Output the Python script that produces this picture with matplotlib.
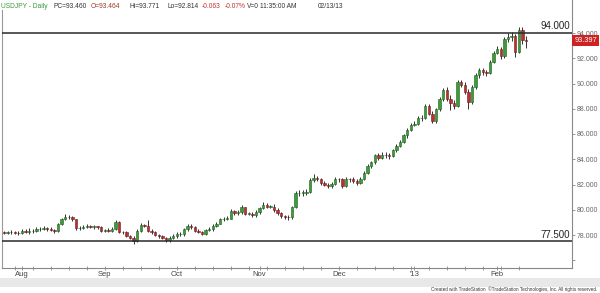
import numpy as np
import pandas as pd
import matplotlib
matplotlib.use("Agg")
import matplotlib.pyplot as plt
import matplotlib.transforms as mtransforms
from matplotlib.patches import Rectangle

plt.rcParams['font.family'] = ['Liberation Sans', 'DejaVu Sans']

dates = pd.bdate_range("2012-07-25", "2013-02-13")

opens = [78.20, 78.15, 78.25, 78.22, 78.15,
         78.12, 78.35, 78.25, 78.35, 78.30, 78.45, 78.50, 78.55, 78.50, 78.40,
         78.30, 78.85, 79.25, 79.45, 79.40, 79.25, 78.55, 78.55, 78.65, 78.70, 78.65, 78.70, 78.60,
         78.35, 78.40, 78.35, 78.45, 79.05, 78.25, 78.20, 77.95, 77.80, 77.50,
         78.35, 78.80, 78.75, 78.35, 78.20, 78.00, 77.90, 77.75, 77.60, 77.80,
         77.95, 78.05, 78.05, 78.45, 78.70, 78.65, 78.35, 78.25, 78.10, 78.40,
         78.45, 78.75, 78.90, 79.25, 79.30, 79.30, 79.90, 79.75, 79.80, 80.20,
         79.70, 79.70, 79.55,
         79.80, 80.10, 80.40, 80.25, 80.25, 80.00, 79.75, 79.50, 79.45, 79.40,
         80.20, 81.30, 81.35, 81.35, 81.40, 82.35, 82.50, 82.40, 82.10, 82.00, 81.90, 82.05,
         82.45, 82.40, 81.90, 82.45, 82.40, 82.30, 82.15,
         82.45, 82.95, 83.45, 83.75, 84.30, 84.10, 84.35, 84.30, 84.25, 84.70,
         85.05, 85.40, 85.90, 86.30,
         86.75, 86.80, 87.25, 87.30, 88.25, 87.60, 87.00, 87.95, 88.75, 89.45,
         88.80, 88.45, 88.20, 90.10, 89.85, 89.35, 88.55, 89.70, 90.65, 91.05,
         90.90, 90.85, 91.70,
         92.45, 92.75, 92.15, 93.55, 93.65, 93.80, 92.50, 94.20, 93.464]

highs = [78.32, 78.35, 78.38, 78.30, 78.28,
         78.50, 78.45, 78.55, 78.45, 78.60, 78.62, 78.70, 78.65, 78.60, 78.48,
         78.95, 79.35, 79.65, 79.60, 79.50, 79.30, 78.70, 78.80, 78.85, 78.82, 78.80, 78.75, 78.70,
         78.50, 78.55, 78.60, 79.20, 79.10, 78.35, 78.30, 78.00, 77.90, 78.45,
         78.95, 78.90, 79.20, 78.45, 78.30, 78.10, 78.00, 77.85, 77.90, 78.10,
         78.20, 78.20, 78.55, 78.85, 78.90, 78.70, 78.45, 78.35, 78.50, 78.60,
         78.85, 79.05, 79.35, 79.45, 79.50, 80.05, 80.00, 79.95, 80.35, 80.25,
         79.85, 79.80, 79.95,
         80.25, 80.65, 80.50, 80.40, 80.45, 80.10, 79.80, 79.60, 79.55, 80.30,
         81.45, 81.60, 81.55, 81.65, 82.50, 82.85, 82.65, 82.55, 82.25, 82.15, 82.20, 82.60,
         82.55, 82.50, 82.60, 82.55, 82.60, 82.45, 82.60,
         83.05, 83.60, 83.90, 84.45, 84.50, 84.55, 84.55, 84.50, 84.85, 85.20,
         85.55, 86.00, 86.45, 86.85,
         87.00, 87.40, 87.50, 88.40, 88.40, 87.80, 88.05, 88.90, 89.65, 89.70,
         89.05, 88.70, 90.25, 90.30, 90.15, 89.55, 89.85, 90.80, 91.20, 91.25,
         91.10, 91.85, 92.55,
         92.95, 92.90, 93.70, 94.00, 94.05, 93.90, 94.50, 94.45, 93.771]

lows = [78.05, 78.08, 78.10, 78.05, 77.98,
        78.05, 78.15, 78.10, 78.18, 78.22, 78.35, 78.38, 78.35, 78.28, 78.18,
        78.25, 78.80, 79.15, 79.25, 79.10, 78.40, 78.40, 78.45, 78.55, 78.52, 78.50, 78.45, 78.25,
        78.20, 78.25, 78.25, 78.40, 78.15, 78.05, 77.85, 77.70, 77.30, 77.45,
        78.25, 78.60, 78.25, 78.05, 77.90, 77.80, 77.65, 77.45, 77.45, 77.70,
        77.75, 77.90, 77.95, 78.35, 78.50, 78.25, 78.15, 78.00, 78.00, 78.30,
        78.35, 78.65, 78.85, 79.10, 79.15, 79.25, 79.55, 79.55, 79.70, 79.60,
        79.55, 79.40, 79.45,
        79.70, 80.05, 80.10, 80.10, 79.85, 79.60, 79.35, 79.30, 79.15, 79.30,
        80.10, 81.10, 81.10, 81.20, 81.35, 82.20, 82.25, 81.95, 81.85, 81.70, 81.75, 81.95,
        82.20, 81.75, 81.80, 82.20, 82.15, 82.00, 82.05,
        82.35, 82.85, 83.30, 83.65, 83.95, 84.00, 84.10, 84.00, 84.15, 84.60,
        84.95, 85.30, 85.70, 86.20,
        86.60, 86.70, 87.00, 87.20, 87.50, 86.85, 86.90, 87.80, 88.60, 88.60,
        87.90, 88.00, 88.10, 89.70, 89.20, 88.00, 88.40, 89.55, 90.45, 90.65,
        90.60, 90.75, 91.60,
        92.30, 91.95, 92.05, 93.30, 93.40, 92.10, 92.40, 93.15, 92.814]

closes = [78.15, 78.25, 78.22, 78.15, 78.12,
          78.35, 78.25, 78.35, 78.30, 78.45, 78.50, 78.55, 78.50, 78.40, 78.30,
          78.85, 79.25, 79.45, 79.40, 79.25, 78.55, 78.55, 78.65, 78.70, 78.65, 78.70, 78.60, 78.35,
          78.40, 78.35, 78.45, 79.05, 78.25, 78.20, 77.95, 77.80, 77.50, 78.35,
          78.80, 78.75, 78.35, 78.20, 78.00, 77.90, 77.75, 77.60, 77.80, 77.95,
          78.05, 78.05, 78.45, 78.70, 78.65, 78.35, 78.25, 78.10, 78.40, 78.45,
          78.75, 78.90, 79.25, 79.30, 79.30, 79.90, 79.75, 79.80, 80.20, 79.70,
          79.70, 79.55, 79.80,
          80.10, 80.40, 80.25, 80.25, 80.00, 79.75, 79.50, 79.45, 79.40, 80.20,
          81.30, 81.35, 81.35, 81.40, 82.35, 82.50, 82.40, 82.10, 82.00, 81.90, 82.05, 82.45,
          82.40, 81.90, 82.45, 82.40, 82.30, 82.15, 82.45,
          82.95, 83.45, 83.75, 84.30, 84.10, 84.35, 84.30, 84.25, 84.70, 85.05,
          85.40, 85.90, 86.30, 86.75,
          86.80, 87.25, 87.30, 88.25, 87.60, 87.00, 87.95, 88.75, 89.45, 88.80,
          88.45, 88.20, 90.10, 89.85, 89.35, 88.55, 89.70, 90.65, 91.05, 90.90,
          90.85, 91.70, 92.45,
          92.75, 92.15, 93.55, 93.65, 93.80, 92.50, 94.20, 93.46, 93.397]

level_lines = [94.0, 77.5]
level_labels = ["94.000", "77.500"]
last_price = 93.397
last_label = "93.397"
y_ticks = [76, 78, 80, 82, 84, 86, 88, 90, 92, 94]
month_labels = ["Aug", "Sep", "Oct", "Nov", "Dec", "'13", "Feb"]

title_parts = [
    ("USDJPY - Daily", "#3a9a3a"),
    ("PC=93.460", "#333333"),
    ("O=93.464", "#9a3a2a"),
    ("Hi=93.771", "#333333"),
    ("Lo=92.814", "#333333"),
    ("-0.063", "#c03030"),
    ("-0.07%", "#c03030"),
    ("V=0", "#333333"),
    ("11:35:00 AM", "#333333"),
    ("02/13/13", "#333333"),
]
title_x_px = [1, 54, 91, 130, 167, 202, 225, 247, 260, 318]

W, H = 600, 293
fig = plt.figure(figsize=(W / 100, H / 100), dpi=100)
fig.patch.set_facecolor("white")

# bottom grey band
fig.patches.append(Rectangle((0, (H - 287) / H), 1, 9 / H, transform=fig.transFigure,
                             facecolor="#e8e8e8", edgecolor="none", zorder=0))

ax = fig.add_axes([2 / W, (H - 268) / H, 570 / W, 268 / H])
ax.set_facecolor("white")

o = np.array(opens); h = np.array(highs); l = np.array(lows); c = np.array(closes)
x = np.arange(len(c))
up = c >= o
body_bottom = np.minimum(o, c)
body_h = np.maximum(np.abs(c - o), 0.04)

ax.vlines(x, l, h, color="#333333", lw=0.7, zorder=2)
ax.bar(x[up], body_h[up], bottom=body_bottom[up], width=0.7,
       color="#3c9c3c", edgecolor="#1e5e1e", linewidth=0.4, zorder=3)
ax.bar(x[~up], body_h[~up], bottom=body_bottom[~up], width=0.7,
       color="#b83232", edgecolor="#6e1a1a", linewidth=0.4, zorder=3)

blend = mtransforms.blended_transform_factory(ax.transAxes, ax.transData)
for lv, lab in zip(level_lines, level_labels):
    ax.axhline(lv, color="#2a2a2a", lw=1.1, zorder=4)
    ax.text(0.997, lv + 0.12, lab, transform=blend,
            ha="right", va="bottom", fontsize=7, color="#222222")

ax.set_xlim(-2 / 3.6, 568 / 3.6)
ax.set_ylim(94 - 235 / 12.625, 94 + 33 / 12.625)

# y axis on right
ax.yaxis.tick_right()
ax.set_yticks(y_ticks)
ax.set_yticklabels(["" if t == 76 else f"{t:.3f}" for t in y_ticks])
ax.tick_params(axis="y", direction="out", length=2.5, width=0.6, colors="#888888",
               labelcolor="#666666", labelsize=5, pad=1)

# x axis: month ticks and weekly minor ticks
didx = pd.DatetimeIndex(dates)
month_pos = [i for i in range(1, len(didx)) if didx[i].month != didx[i - 1].month]
week_pos = [i for i in range(len(didx)) if didx[i].weekday() == 0]
ax.set_xticks(month_pos)
ax.set_xticklabels(month_labels)
ax.set_xticks(week_pos, minor=True)
ax.tick_params(axis="x", which="both", direction="inout", length=3, width=0.6,
               colors="#888888", labelcolor="#444444", labelsize=5.5, pad=1)

ax.spines["top"].set_visible(False)
ax.spines["right"].set_color("#888888")
ax.spines["right"].set_linewidth(0.8)
ax.spines["bottom"].set_color("#888888")
ax.spines["bottom"].set_linewidth(0.8)
ax.spines["left"].set_color("#999999")
ax.spines["left"].set_linewidth(0.8)
ax.spines["left"].set_bounds(ax.get_ylim()[0], 94 + 23 / 12.625)

# last price box
ax.text(1.004, last_price, last_label, transform=blend,
        ha="left", va="center", fontsize=5.3, color="white", clip_on=False,
        bbox=dict(boxstyle="square,pad=0.3", facecolor="#cc2222", edgecolor="none"))

# title
for (txt, col), px in zip(title_parts, title_x_px):
    fig.text(px / W, 1 - 6 / H, txt, ha="left", va="center", fontsize=4.8, color=col)

fig.text(1 - 3 / W, 1.5 / H, "Created with TradeStation  \u00a9TradeStation Technologies, Inc. All rights reserved.",
         ha="right", va="bottom", fontsize=3.3, color="#333333")

fig.savefig("out.png", dpi=100)
